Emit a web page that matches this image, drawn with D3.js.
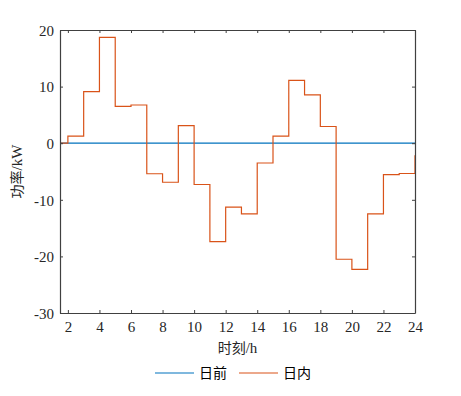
<!DOCTYPE html>
<html>
<head>
<meta charset="utf-8">
<script src="https://cdn.jsdelivr.net/npm/d3@7"></script>
<style>
body { margin: 0; background: #fff; }
svg { display: block; }
.tick text, .serif { font-family: "Liberation Serif", serif !important; }
</style>
</head>
<body>
<svg id="chart"></svg>
<script>
// hours (stairs start points) and power values
var hours = [1,2,3,4,5,6,7,8,9,10,11,12,13,14,15,16,17,18,19,20,21,22,23,24];
var dayAhead = [0,0,0,0,0,0,0,0,0,0,0,0,0,0,0,0,0,0,0,0,0,0,0,0];
var intraDay = [0,1.25,9.1,18.7,6.5,6.75,-5.4,-6.9,3.1,-7.3,-17.4,-11.3,-12.5,-3.5,1.25,11.1,8.55,2.95,-20.5,-22.3,-12.5,-5.55,-5.35,-2.15];
var xTicks = [2,4,6,8,10,12,14,16,18,20,22,24];
var yTicks = [-30,-20,-10,0,10,20];
var seriesNames = ["日前", "日内"];
var colors = ["#0072BD", "#D95319"];

var margin = {top: 30, right: 46, bottom: 83, left: 60}
  , W = 461, H = 396
  , width = W - margin.left - margin.right
  , height = H - margin.top - margin.bottom;

var svg = d3.select("#chart").attr("width", W).attr("height", H);

var x = d3.scaleLinear().domain([1.5, 24]).range([0, width]);
var y = d3.scaleLinear().domain([-30, 20]).range([height, 0]);

var g = svg.append("g").attr("transform", "translate(" + margin.left + "," + margin.top + ")");

g.append("clipPath").attr("id", "clip")
  .append("rect").attr("width", width).attr("height", height);

var line = d3.line()
  .x(function (d) { return x(d[0]); })
  .y(function (d) { return y(d[1]); })
  .curve(d3.curveStepAfter);

var plot = g.append("g").attr("clip-path", "url(#clip)");

// day-ahead: flat line across the whole axis
plot.append("path")
  .datum([[1.5, dayAhead[0]], [24, dayAhead[dayAhead.length - 1]]])
  .attr("d", line)
  .attr("fill", "none")
  .attr("stroke", colors[0])
  .attr("stroke-width", 1.2);

plot.append("path")
  .datum(hours.map(function (h, i) { return [h, intraDay[i]]; }))
  .attr("d", line)
  .attr("fill", "none")
  .attr("stroke", colors[1])
  .attr("stroke-width", 1.2);

var axisColor = "#404040";
var fmt = function (d) { return String(d); };   // plain hyphen minus like the original

var xAxis = g.append("g")
  .attr("transform", "translate(0," + height + ")")
  .call(d3.axisBottom(x).tickValues(xTicks).tickFormat(fmt).tickSizeInner(-3).tickSizeOuter(0).tickPadding(8));
var yAxis = g.append("g")
  .call(d3.axisLeft(y).tickValues(yTicks).tickFormat(fmt).tickSizeInner(-3).tickSizeOuter(0).tickPadding(6));
var xTop = g.append("g")
  .call(d3.axisTop(x).tickValues(xTicks).tickSizeInner(-3).tickSizeOuter(0).tickFormat(""));
var yRight = g.append("g")
  .attr("transform", "translate(" + width + ",0)")
  .call(d3.axisRight(y).tickValues(yTicks).tickSizeInner(-3).tickSizeOuter(0).tickFormat(""));

[xAxis, yAxis, xTop, yRight].forEach(function (a) {
  a.attr("font-family", null).attr("font-size", null);
  a.selectAll("path").attr("stroke", axisColor).attr("stroke-width", 1.2);
  a.selectAll("line").attr("stroke", axisColor);
  a.selectAll("text")
    .attr("fill", "#262626")
    .style("font-size", "15px");
});
yAxis.selectAll("text").attr("dy", "0.35em");

// axis titles
function title(sel, cjk, latin) {
  sel.style("font-size", "14px").attr("fill", "#262626");
  sel.append("tspan").style("font-family", "Noto Sans CJK SC").text(cjk);
  sel.append("tspan").attr("class", "serif").style("font-size", "15px").text(latin);
}

title(g.append("text")
  .attr("x", width / 2)
  .attr("y", height + 40)
  .attr("text-anchor", "middle"), "时刻", "/h");

title(g.append("text")
  .attr("transform", "translate(-38," + (height / 2) + ") rotate(-90)")
  .attr("text-anchor", "middle"), "功率", "/kW");

// legend
var legendX = [155, 239];
var legend = svg.append("g").attr("transform", "translate(0,373)");
seriesNames.forEach(function (name, i) {
  legend.append("line")
    .attr("x1", legendX[i]).attr("x2", legendX[i] + 39)
    .attr("y1", 0).attr("y2", 0)
    .attr("stroke", colors[i]).attr("stroke-width", 1.2);
  legend.append("text")
    .attr("x", legendX[i] + 44)
    .attr("y", 0)
    .attr("dy", "0.35em")
    .style("font-family", "Noto Sans CJK SC")
    .style("font-size", "14px")
    .attr("fill", "#000")
    .text(name);
});
</script>
</body>
</html>
